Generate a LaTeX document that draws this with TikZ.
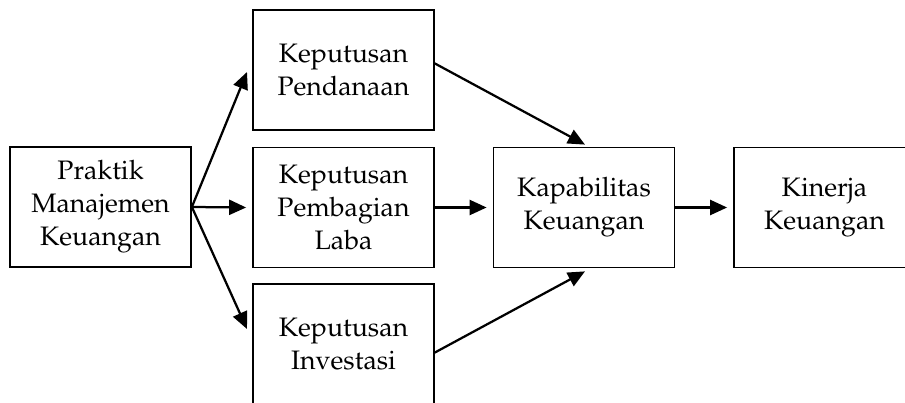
\documentclass[tikz,border=0pt]{standalone}
\usepackage[T1]{fontenc}
\usepackage{mathpazo}
\usetikzlibrary{arrows.meta}
\begin{document}
\begin{tikzpicture}[>={Triangle[length=0.34cm,width=0.3cm]},font=\fontsize{15.2}{18.8}\selectfont]
	\tikzstyle{box}=[draw,line width=0.035cm,minimum width=3.62cm,minimum height=2.4cm,align=center,inner sep=0pt]
	\tikzstyle{conn}=[->,line width=0.045cm]
	\useasboundingbox (0,0) rectangle (18.1,-8.06);

	\node[box](prak) at (2.01,-4.14){Praktik\\Manajemen\\Keuangan};
	\node[box](pend) at (6.87,-1.40){Keputusan\\Pendanaan};
	\node[box](bagi) at (6.87,-4.15){Keputusan\\Pembagian\\Laba};
	\node[box](inv) at (6.87,-6.88){Keputusan\\Investasi};
	\node[box](kap) at (11.68,-4.15){Kapabilitas\\Keuangan};
	\node[box](kin) at (16.49,-4.15){Kinerja\\Keuangan};

	\coordinate (pendin) at (4.94,-1.44);
	\coordinate (invin) at (4.94,-6.58);
	\coordinate (pendout) at (8.68,-1.26);
	\coordinate (invout) at (8.68,-7.06);

	\draw[conn] (prak.east) -- (pendin);
	\draw[conn] (prak.east) -- ([xshift=-0.12cm]bagi.west);
	\draw[conn] (prak.east) -- (invin);

	\draw[conn] (pendout) -- ([xshift=0.02cm,yshift=0.04cm]kap.north);
	\draw[conn] (bagi.east) -- ([xshift=-0.12cm]kap.west);
	\draw[conn] (invout) -- ([xshift=0.02cm,yshift=-0.06cm]kap.south);

	\draw[conn] (kap.east) -- ([xshift=-0.12cm]kin.west);
\end{tikzpicture}
\end{document}
